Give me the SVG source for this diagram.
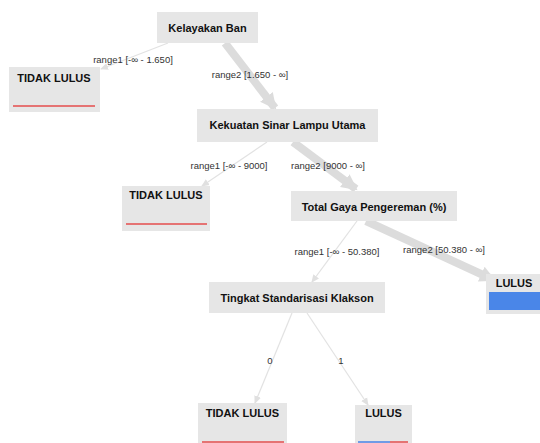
<svg xmlns="http://www.w3.org/2000/svg" width="540" height="443" viewBox="0 0 540 443">
<style>
.box{fill:#e6e6e6}
.nl{font-family:"Liberation Sans",Arial,sans-serif;font-size:11px;font-weight:bold;fill:#111;text-anchor:middle}
.el{font-family:"Liberation Sans",Arial,sans-serif;font-size:9.5px;fill:#333;text-anchor:middle}
.thick{stroke:#dcdcdc;stroke-width:8;fill:none}
.thin{stroke:#e2e2e2;stroke-width:1.2;fill:none}
.red{stroke:#e57373;stroke-width:2}
.blue{fill:#4a86e8}
</style>
<defs>
<marker id="ab" markerUnits="userSpaceOnUse" markerWidth="18" markerHeight="18" refX="14" refY="9" orient="auto" viewBox="0 0 18 18"><path d="M0,1 L16,9 L0,17 Z" fill="#dcdcdc"/></marker>
<marker id="as" markerUnits="userSpaceOnUse" markerWidth="8" markerHeight="8" refX="7" refY="4" orient="auto" viewBox="0 0 8 8"><path d="M0,0.5 L8,4 L0,7.5 Z" fill="#e0e0e0"/></marker>
</defs>
<rect width="540" height="443" fill="#fff"/>
<g id="connectors">
<path class="thick" d="M225,43 L275,108" marker-end="url(#ab)"/>
<path class="thick" d="M293,142 L356,189" marker-end="url(#ab)"/>
<path class="thick" d="M366,221 L494,280" marker-end="url(#ab)"/>
<path class="thin" d="M168,43 L101,69" marker-end="url(#as)"/>
<path class="thin" d="M267,142 L202,186" marker-end="url(#as)"/>
<path class="thin" d="M357,221 L312,282" marker-end="url(#as)"/>
<path class="thin" d="M292,313 L255,403" marker-end="url(#as)"/>
<path class="thin" d="M307,313 L368,405" marker-end="url(#as)"/>
</g>
<g id="n1"><rect class="box" x="157" y="12" width="101" height="31"/><text class="nl" x="207.5" y="32">Kelayakan Ban</text></g>
<g id="n2"><rect class="box" x="9" y="67" width="91" height="45"/><text class="nl" x="54" y="82">TIDAK LULUS</text><line class="red" x1="13" y1="106" x2="95" y2="106"/></g>
<g id="n3"><rect class="box" x="197" y="109" width="181" height="33"/><text class="nl" x="287.5" y="129">Kekuatan Sinar Lampu Utama</text></g>
<g id="n4"><rect class="box" x="122" y="186" width="88" height="45"/><text class="nl" x="166" y="199">TIDAK LULUS</text><line class="red" x1="126" y1="224" x2="207" y2="224"/></g>
<g id="n5"><rect class="box" x="291" y="191" width="166" height="30"/><text class="nl" x="374" y="211">Total Gaya Pengereman (%)</text></g>
<g id="n6"><rect class="box" x="486" y="274" width="60" height="40"/><text class="nl" x="514" y="287">LULUS</text><rect class="blue" x="489" y="292" width="51" height="18"/></g>
<g id="n7"><rect class="box" x="209" y="282" width="176" height="31"/><text class="nl" x="297" y="302">Tingkat Standarisasi Klakson</text></g>
<g id="n8"><rect class="box" x="198" y="403" width="89" height="45"/><text class="nl" x="242.5" y="417">TIDAK LULUS</text><line class="red" x1="202" y1="442" x2="284" y2="442"/></g>
<g id="n9"><rect class="box" x="355" y="405" width="57" height="45"/><text class="nl" x="383.5" y="417">LULUS</text><line x1="358" y1="442" x2="390" y2="442" stroke="#6f9be6" stroke-width="2"/><line class="red" x1="390" y1="442" x2="408" y2="442"/></g>
<g id="edge-labels">
<text class="el" x="133" y="63">range1 [-∞ - 1.650]</text>
<text class="el" x="250" y="78">range2 [1.650 - ∞]</text>
<text class="el" x="229" y="169">range1 [-∞ - 9000]</text>
<text class="el" x="328" y="169">range2 [9000 - ∞]</text>
<text class="el" x="337" y="255">range1 [-∞ - 50.380]</text>
<text class="el" x="444" y="253">range2 [50.380 - ∞]</text>
<text class="el" x="270" y="364">0</text>
<text class="el" x="341" y="364">1</text>
</g>
</svg>
